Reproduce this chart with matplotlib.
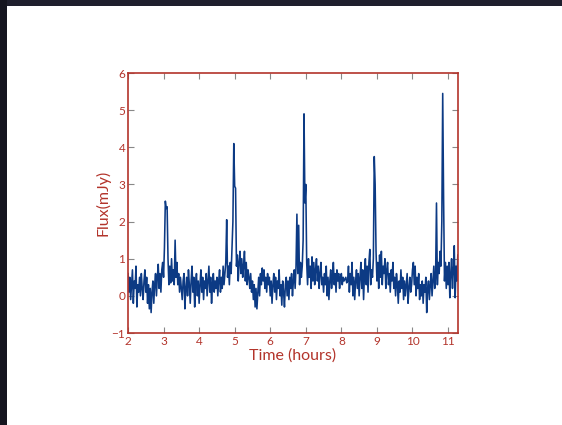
import numpy as np
import matplotlib
matplotlib.use("Agg")
import matplotlib.pyplot as plt
from matplotlib.patches import Rectangle

# ---- data ----
t_start = 2.0
dt = 0.025
flux = [
    0.6, 0.1, 0.5, -0.1, 0.3, 0.7, -0.2, 0.4, 0.2, 0.8, -0.3, 0.3, 0.1, 0.5, 0.0, 0.6, 0.2, -0.1, 0.4, 0.7,
    0.1, 0.5, -0.2, 0.3, -0.35, 0.2, -0.45, 0.1, 0.4, -0.2, 0.3, 0.6, 0.0, 0.5, 0.85, 0.2, 0.6, 0.1, 0.7, 0.9,
    0.5, 1.3, 2.55, 2.35, 2.4, 1.0, 0.3, 0.8, 0.35, 1.0, 0.4, 0.7, 0.3, 1.5, 0.5, 0.9, 0.3, 0.6, 0.1, 0.5,
    0.2, -0.1, 0.4, 0.6, -0.35, 0.2, 0.5, 0.0, 0.7, 0.3, -0.2, 0.4, 0.8, 0.1, 0.5, -0.3, 0.3, 0.6, 0.0, 0.4,
    -0.2, 0.3, 0.7, 0.1, 0.5, -0.1, 0.4, 0.2, 0.6, 0.0, 0.4, 0.8, 0.1, 0.5, -0.2, 0.3, 0.6, 0.1, 0.4, 0.2,
    0.5, 0.0, 0.4, 0.7, 0.1, 0.5, 0.2, 0.8, 0.3, 0.6, 0.9, 2.05, 0.5, 0.8, 0.3, 0.9, 0.6, 1.3, 2.0, 4.1,
    2.95, 2.9, 0.8, 1.1, 0.4, 0.9, 1.2, 0.6, 1.0, 0.5, 0.8, 1.2, 0.4, 0.9, 0.3, 0.7, 0.5, 0.2, 0.6, 0.1,
    0.4, -0.1, 0.3, -0.3, 0.2, -0.35, 0.1, 0.5, 0.0, 0.6, 0.3, 0.75, 0.4, 0.7, 0.2, 0.5, 0.1, 0.6, 0.3, 0.5,
    0.0, 0.4, -0.2, 0.3, 0.6, 0.1, 0.5, -0.1, 0.4, 0.2, 0.7, 0.0, 0.3, -0.25, 0.4, 0.1, -0.3, 0.3, 0.5, 0.0,
    0.4, -0.1, 0.5, 0.2, 0.6, 0.0, 0.4, 0.7, 0.2, 0.8, 2.2, 0.6, 1.9, 0.3, 0.9, 0.5, 0.8, 1.5, 4.9, 2.5,
    3.0, 0.9, 0.3, 1.0, 0.5, 0.8, 0.2, 1.05, 0.4, 0.9, 0.3, 0.7, 1.0, 0.4, 0.8, 0.2, 0.6, 0.9, 0.3, 0.5,
    0.1, 0.6, 0.3, 0.8, 0.0, 0.5, -0.1, 0.4, 0.7, 0.2, 0.5, 0.9, 0.3, 0.6, 0.1, 0.7, 0.4, 0.6, 0.2, 0.5,
    0.6, 0.3, 0.5, 0.4, 0.45, 0.5, 0.35, 0.4, 0.8, 0.1, 0.6, 0.3, 0.9, 0.0, 0.5, -0.1, 0.4, 0.7, 0.2, 0.6,
    0.0, 0.5, 0.9, 0.2, 0.7, -0.1, 0.6, 1.0, 0.3, 0.8, 0.1, 0.9, 1.25, 0.3, 0.7, 0.5, 1.0, 3.75, 3.0, 1.2,
    0.4, 0.9, 0.2, 1.1, 0.5, 1.2, 0.3, 0.8, 0.6, 1.0, 0.2, 0.7, 0.9, 0.3, 0.6, 0.1, 0.7, 0.4, 0.9, 0.2,
    0.5, 0.0, 0.6, 0.3, -0.2, 0.4, 0.1, 0.7, 0.2, 0.5, -0.1, 0.4, 0.0, 0.3, 0.6, -0.2, 0.2, 0.5, 0.1, 0.3,
    0.7, 0.9, 0.3, 0.8, 0.0, 0.5, 0.2, 0.6, -0.1, 0.3, 0.0, 0.4, -0.2, 0.3, 0.1, 0.5, -0.45, 0.2, 0.4, -0.1,
    0.3, 0.6, 0.0, 0.4, 0.8, 0.2, 0.5, 2.5, 0.3, 0.9, 0.6, 1.2, 0.8, 2.0, 5.45, 2.6, 0.4, 0.9, 0.2, 0.8,
    0.3, 0.9, -0.05, 0.6, 1.0, 0.2, 0.7, 1.35, -0.05, 0.8, 0.4, 1.1,
]
time_hours = t_start + dt * np.arange(len(flux))

x_ticks = [2, 3, 4, 5, 6, 7, 8, 9, 10, 11]
y_ticks = [-1, 0, 1, 2, 3, 4, 5, 6]

# ---- styling ----
red = "#b3342b"
line_col = "#0c3a84"
plt.rcParams["font.family"] = ["Lato", "DejaVu Sans"]

fig = plt.figure(figsize=(5.62, 4.25), dpi=100)
fig.patch.set_facecolor("white")
# dark frame bits of the screenshot
fig.patches.append(Rectangle((0, 1 - 6 / 425), 1, 6 / 425, transform=fig.transFigure,
                             facecolor="#1f1f2d", edgecolor="none", zorder=0))
fig.patches.append(Rectangle((0, 0), 7 / 562, 1, transform=fig.transFigure,
                             facecolor="#15151f", edgecolor="none", zorder=0))

ax = fig.add_axes([128 / 562, 1 - 333 / 425, 330 / 562, 260 / 425])
ax.plot(time_hours, flux, color=line_col, lw=1.15)

ax.set_xlim(2, 11.28)
ax.set_ylim(-1, 6)
ax.set_xticks(x_ticks)
ax.set_yticks(y_ticks)
ax.set_yticklabels(["\u22121"] + [str(v) for v in y_ticks[1:]])

for s in ax.spines.values():
    s.set_color(red)
    s.set_linewidth(1.2)

ax.tick_params(direction="in", length=4, width=0.8, color="#888888",
               top=True, right=True, labelsize=8.5, labelcolor=red, pad=2)

ax.set_xlabel("Time (hours)", color=red, fontsize=11.5, labelpad=1)
ax.set_ylabel("Flux(mJy)", color=red, fontsize=11.5, labelpad=1)

fig.savefig("out.png", dpi=100)
